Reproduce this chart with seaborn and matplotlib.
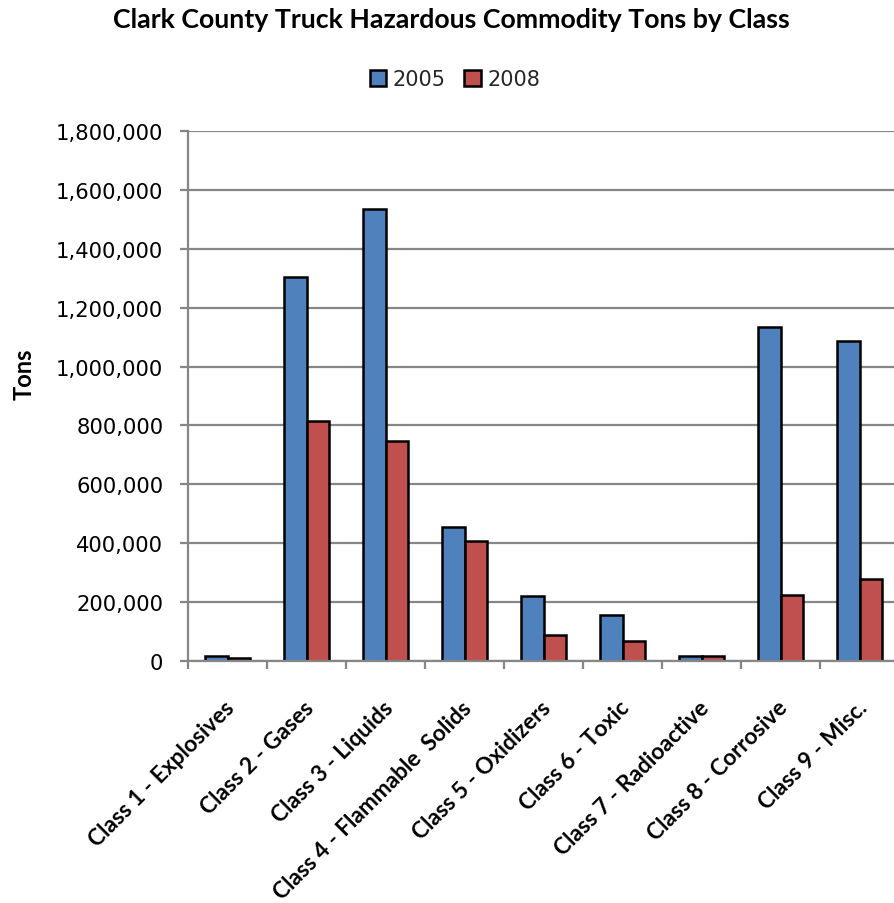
import matplotlib
matplotlib.use("Agg")
import matplotlib.pyplot as plt
import matplotlib.transforms as mtransforms
from matplotlib.ticker import FuncFormatter, MultipleLocator, FixedLocator
import seaborn as sns
import pandas as pd

# ---- data ----
categories = [
    "Class 1 - Explosives",
    "Class 2 - Gases",
    "Class 3 - Liquids",
    "Class 4 - Flammable  Solids",
    "Class 5 - Oxidizers",
    "Class 6 - Toxic",
    "Class 7 - Radioactive",
    "Class 8 - Corrosive",
    "Class 9 - Misc.",
]
years = ["2005", "2008"]
tons_2005 = [17000, 1305000, 1535000, 456000, 220000, 157000, 16000, 1133000, 1088000]
tons_2008 = [10000, 815000, 748000, 409000, 88000, 69000, 16000, 225000, 280000]
colors = ["#4F81BD", "#C0504D"]
title = "Clark County Truck Hazardous Commodity Tons by Class"
y_label = "Tons"

df = pd.DataFrame({
    "Class": categories * 2,
    "Year": [years[0]] * len(categories) + [years[1]] * len(categories),
    "Tons": tons_2005 + tons_2008,
})

sns.set_theme(style="white")
plt.rcParams["font.family"] = ["DejaVu Sans"]

gray = "#868686"
W, H = 894, 904
fig = plt.figure(figsize=(W / 100, H / 100), dpi=100)
ax = fig.add_axes([188 / W, 1 - 662 / H, 711 / W, 530 / H])

sns.barplot(data=df, x="Class", y="Tons", hue="Year", order=categories,
            hue_order=years, palette=colors, width=0.57, saturation=1,
            edgecolor="black", linewidth=1.8, ax=ax)

handles, labels = ax.get_legend_handles_labels()
if ax.get_legend() is not None:
    ax.get_legend().remove()

ax.set_xlim(-0.5, len(categories) - 0.5)
ax.set_ylim(0, 1800000)
ax.yaxis.set_major_locator(MultipleLocator(200000))
ax.yaxis.set_major_formatter(FuncFormatter(lambda v, p: f"{int(round(v)):,}"))
ax.set_axisbelow(True)
ax.yaxis.grid(True, color=gray, linewidth=1.6)
ax.xaxis.grid(False)

for side in ["top", "right"]:
    ax.spines[side].set_visible(False)
for side in ["left", "bottom"]:
    ax.spines[side].set_color(gray)
    ax.spines[side].set_linewidth(1.6)

ax.tick_params(axis="y", which="major", left=True, length=5.8, width=1.6,
               color=gray, pad=12, labelsize=15.2, labelcolor="black")
ax.set_xticks(range(len(categories)))
ax.set_xticklabels(categories, rotation=45, ha="right", va="center",
                   rotation_mode="anchor", fontfamily="Lato",
                   fontweight="bold", fontsize=16.3, color="black")
ax.xaxis.set_minor_locator(FixedLocator([i - 0.5 for i in range(len(categories) + 1)]))
ax.tick_params(axis="x", which="major", bottom=True, length=0, pad=31)
ax.tick_params(axis="x", which="minor", bottom=True, length=6, width=1.6, color=gray)

ax.set_xlabel("")
ax.set_ylabel(y_label, fontfamily="Lato", fontweight="bold", fontsize=17, color="black")
ax.yaxis.set_label_coords(-0.2138, 0.5434)

offset = mtransforms.ScaledTranslation(4 / 100, 0, fig.dpi_scale_trans)
for lbl in ax.get_xticklabels():
    lbl.set_transform(lbl.get_transform() + offset)

fig.text(451 / W, 1 - 28 / H, title, ha="center", va="baseline",
         fontfamily="Lato", fontweight="bold", fontsize=19.3, color="black")

fig.legend(handles, labels, loc="center", bbox_to_anchor=(455 / W, 1 - 80 / H),
           ncol=2, frameon=False, fontsize=15, handlelength=0.8,
           handleheight=0.8, handletextpad=0.3, columnspacing=0.9,
           borderpad=0, borderaxespad=0)

fig.savefig("out.png", dpi=100)
